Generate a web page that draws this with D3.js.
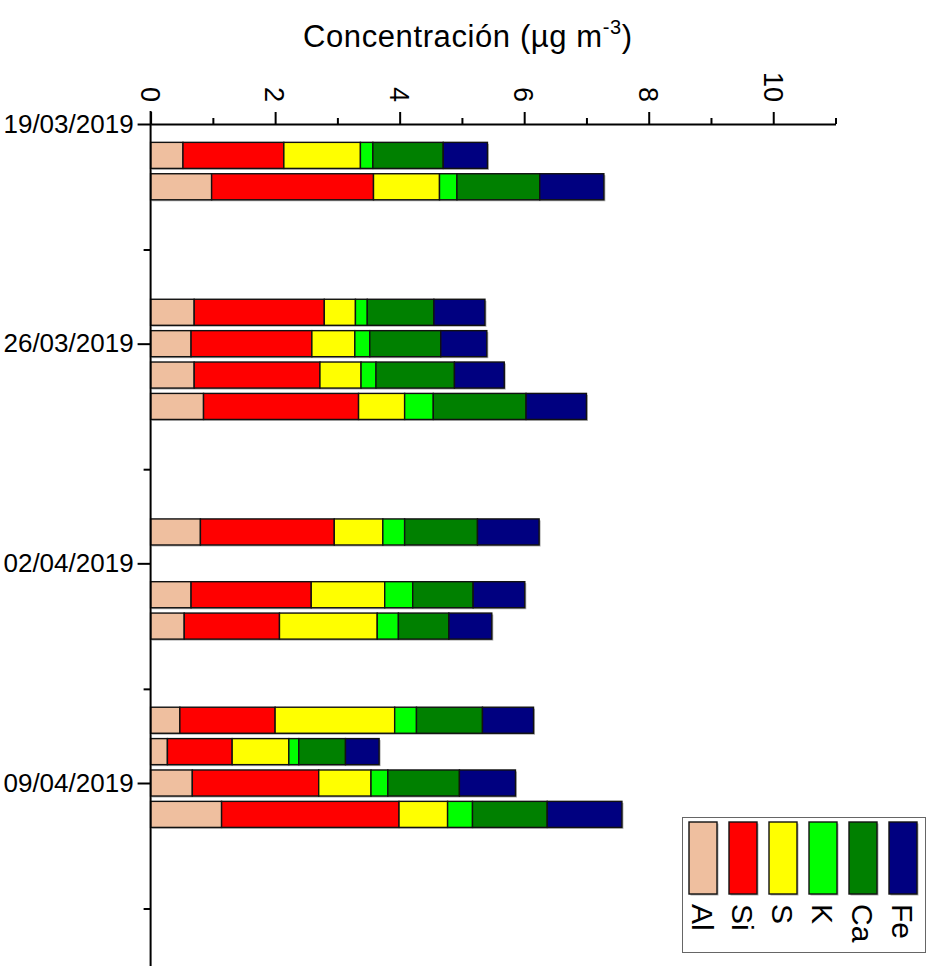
<!DOCTYPE html>
<html>
<head>
<meta charset="utf-8">
<script src="https://cdn.jsdelivr.net/npm/d3@7"></script>
<style>
  html, body { margin: 0; padding: 0; background: #fff; }
  svg { display: block; font-family: "Liberation Sans", Arial, sans-serif; }
</style>
</head>
<body>
<svg id="chart" width="930" height="966"></svg>
<script>
// Sampling days and element concentrations (µg m-3)
const sampleDates = ["20/03/2019", "21/03/2019", "25/03/2019", "26/03/2019", "27/03/2019", "28/03/2019",
                     "01/04/2019", "03/04/2019", "04/04/2019", "07/04/2019", "08/04/2019", "09/04/2019", "10/04/2019"];
const elements = ["Al", "Si", "S", "K", "Ca", "Fe"];
const Al = [0.52, 0.98, 0.70, 0.65, 0.70, 0.85, 0.80, 0.65, 0.54, 0.47, 0.27, 0.67, 1.14];
const Si = [1.62, 2.60, 2.09, 1.94, 2.02, 2.49, 2.15, 1.93, 1.53, 1.53, 1.04, 2.03, 2.85];
const S  = [1.23, 1.06, 0.50, 0.69, 0.66, 0.74, 0.78, 1.18, 1.57, 1.92, 0.91, 0.84, 0.78];
const K  = [0.20, 0.28, 0.19, 0.24, 0.24, 0.46, 0.35, 0.45, 0.34, 0.35, 0.16, 0.27, 0.40];
const Ca = [1.13, 1.33, 1.07, 1.14, 1.26, 1.49, 1.17, 0.97, 0.81, 1.06, 0.75, 1.15, 1.20];
const Fe = [0.71, 1.03, 0.82, 0.74, 0.80, 0.97, 0.99, 0.83, 0.69, 0.82, 0.54, 0.90, 1.20];
const colors = ["#EFBF9F", "#FF0000", "#FFFF00", "#00FF00", "#008000", "#000080"];

// Axis ticks
const xMajorTicks = [0, 2, 4, 6, 8, 10];
const xMinorTicks = [1, 3, 5, 7, 9, 11];
const dateTicks = ["19/03/2019", "26/03/2019", "02/04/2019", "09/04/2019"];
const dateMinorTicks = ["23/03/2019", "30/03/2019", "06/04/2019", "13/04/2019"];
const axisTitle = "Concentración (µg m";

const parse = d3.timeParse("%d/%m/%Y");
const series = { Al, Si, S, K, Ca, Fe };
const rows = sampleDates.map((d, i) => {
  const r = { date: parse(d) };
  elements.forEach(e => { r[e] = series[e][i]; });
  return r;
});

const svg = d3.select("#chart");
const font = '"Liberation Sans", Arial, sans-serif';

const x = d3.scaleLinear().domain([0, 11]).range([150.6, 835.5]);
const y = d3.scaleTime().domain([parse(dateTicks[0]), parse(dateTicks[3])]).range([124, 783]);
const dayPx = y(d3.timeDay.offset(parse(dateTicks[0]), 1)) - y(parse(dateTicks[0]));
const barH = dayPx * 0.83;

const stacked = d3.stack().keys(elements)(rows);
const color = d3.scaleOrdinal().domain(elements).range(colors);

// Drop shadows behind each full bar
svg.append("g").selectAll("rect")
  .data(rows)
  .join("rect")
  .attr("x", x(0) + 1.5)
  .attr("y", d => y(d.date) - barH / 2 + 1.5)
  .attr("width", d => x(d3.sum(elements, e => d[e])) - x(0))
  .attr("height", barH)
  .attr("fill", "#b0b0b0");

// Stacked segments
svg.append("g").selectAll("g")
  .data(stacked)
  .join("g")
  .attr("fill", d => color(d.key))
  .selectAll("rect")
  .data(d => d)
  .join("rect")
  .attr("x", d => x(d[0]))
  .attr("y", d => y(d.data.date) - barH / 2)
  .attr("width", d => x(d[1]) - x(d[0]))
  .attr("height", barH)
  .attr("stroke", "#111")
  .attr("stroke-width", 1.4);

// Top concentration axis
const xAxis = svg.append("g").attr("transform", `translate(0,${y(parse(dateTicks[0]))})`);
xAxis.call(d3.axisTop(x).tickValues(xMajorTicks).tickSize(12).tickSizeOuter(0).tickFormat(""));
xAxis.append("g").call(d3.axisTop(x).tickValues(xMinorTicks).tickSize(6).tickSizeOuter(0).tickFormat(""))
  .select(".domain").remove();
xAxis.selectAll("line, path").attr("stroke", "#000").attr("stroke-width", 2);

svg.append("g").selectAll("text")
  .data(xMajorTicks)
  .join("text")
  .attr("transform", d => `translate(${x(d)},102) rotate(90)`)
  .attr("text-anchor", "end")
  .attr("dy", "0.36em")
  .attr("font-family", font)
  .attr("font-size", 27)
  .text(d => d);

// Left date axis
const yAxis = svg.append("g").attr("transform", `translate(${x(0)},0)`);
yAxis.append("line")
  .attr("y1", 111).attr("y2", 966)
  .attr("stroke", "#000").attr("stroke-width", 2);
yAxis.append("g").call(d3.axisLeft(y).tickValues(dateTicks.map(parse)).tickSize(13)
  .tickFormat(d3.timeFormat("%d/%m/%Y")))
  .call(g => g.select(".domain").remove())
  .call(g => g.selectAll("line").attr("stroke", "#000").attr("stroke-width", 2))
  .call(g => g.selectAll("text").attr("font-family", font).attr("font-size", 26)
    .attr("fill", "#000").attr("x", -17));
yAxis.append("g").call(d3.axisLeft(y).tickValues(dateMinorTicks.map(parse)).tickSize(7).tickFormat(""))
  .call(g => g.select(".domain").remove())
  .call(g => g.selectAll("line").attr("stroke", "#000").attr("stroke-width", 2));

// Axis title
const title = svg.append("text")
  .attr("x", 303).attr("y", 47)
  .attr("font-family", font)
  .attr("font-size", 31)
  .attr("letter-spacing", 0.6)
  .attr("fill", "#000");
title.append("tspan").text(axisTitle);
title.append("tspan").attr("font-size", 20).attr("dy", -13).text("-3");
title.append("tspan").attr("dy", 13).text(")");

// Legend
const legend = svg.append("g");
legend.append("rect")
  .attr("x", 682.5).attr("y", 817.5).attr("width", 243).attr("height", 135)
  .attr("fill", "#fff").attr("stroke", "#666").attr("stroke-width", 1);
const item = legend.selectAll("g.item")
  .data(elements)
  .join("g")
  .attr("class", "item")
  .attr("transform", (d, i) => `translate(${689 + i * 40},822)`);
item.append("rect")
  .attr("x", 1.5).attr("y", 1.5).attr("width", 28).attr("height", 72)
  .attr("fill", "#b0b0b0");
item.append("rect")
  .attr("width", 28).attr("height", 72)
  .attr("fill", d => color(d))
  .attr("stroke", "#111").attr("stroke-width", 1.4);
item.append("text")
  .attr("transform", "translate(14,82) rotate(90)")
  .attr("dy", "0.36em")
  .attr("font-family", font)
  .attr("font-size", 30)
  .text(d => d);
</script>
</body>
</html>
